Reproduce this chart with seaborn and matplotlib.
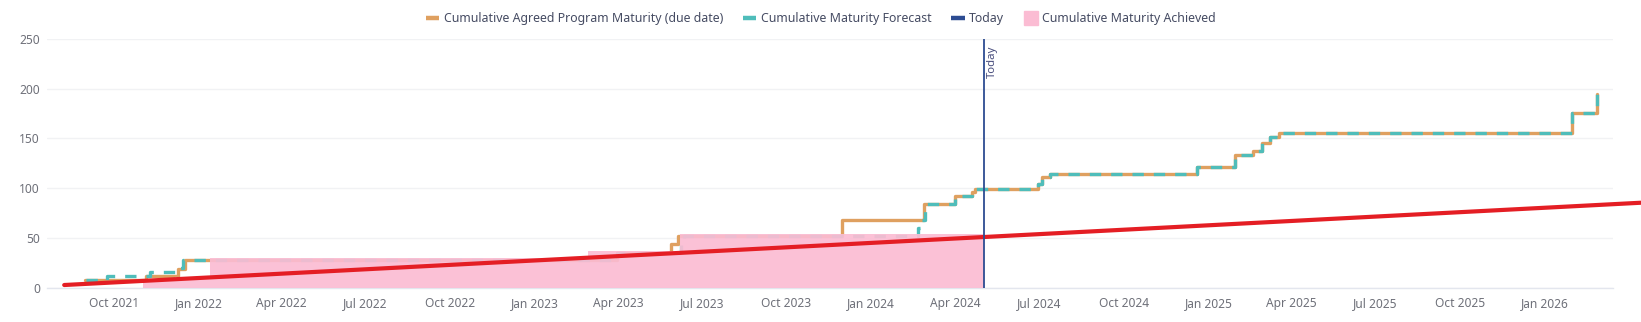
import numpy as np
import pandas as pd
import matplotlib
matplotlib.use("Agg")
import matplotlib.pyplot as plt
import matplotlib.dates as mdates
from matplotlib.lines import Line2D
import seaborn as sns

# Cumulative agreed programme maturity (by due date)
agreed_dates = ["2021-08-31", "2021-11-05", "2021-12-09", "2021-12-17", "2023-03-31",
                "2023-05-29", "2023-06-05", "2023-11-30", "2024-02-27", "2024-04-01",
                "2024-04-19", "2024-04-22", "2024-06-30", "2024-07-04", "2024-07-13",
                "2024-12-20", "2025-01-30", "2025-02-18", "2025-02-28", "2025-03-09",
                "2025-03-18", "2026-01-31", "2026-02-27"]
agreed_values = [8, 12, 19, 28, 35,
                 44, 52, 68, 84, 92,
                 96, 99, 104, 111, 114,
                 121, 133, 137, 145, 151,
                 156, 176, 195]

# Cumulative maturity forecast
forecast_dates = ["2021-09-01", "2021-09-23", "2021-11-09", "2021-12-06", "2021-12-15",
                  "2023-03-31", "2023-06-08", "2023-06-12", "2024-02-21", "2024-02-23",
                  "2024-02-28", "2024-04-01", "2024-04-19", "2024-04-22", "2024-06-30",
                  "2024-07-04", "2024-07-13", "2024-12-20", "2025-01-30", "2025-02-18",
                  "2025-02-28", "2025-03-09", "2025-03-18", "2026-01-31", "2026-02-27"]
forecast_values = [8, 12, 16, 19.5, 28,
                   35, 44, 52, 60, 68,
                   84, 92, 96, 99, 104,
                   111, 114, 121, 133, 137,
                   145, 151, 156, 176, 195]

# Cumulative maturity achieved up to today
achieved_dates = ["2021-11-01", "2021-12-06", "2022-01-13", "2023-02-28", "2023-06-07", "2024-05-02"]
achieved_values = [7, 11, 29.5, 36.5, 53.5, 53.5]

# Linear trajectory
trend_dates = ["2021-08-08", "2026-04-15"]
trend_values = [2.7, 85.4]

today = "2024-05-02"
y_ticks = [0, 50, 100, 150, 200, 250]
x_ticks = pd.date_range("2021-10-01", "2026-01-01", freq="3MS")

ORANGE = "#dfa060"
TEAL = "#4fbdba"
NAVY = "#2d4c92"
RED = "#e41e24"
PINK = "#fbbcd3"
LABEL = "#6e7079"
TEXT = "#464c63"

sns.set_theme(style="white")
plt.rcParams["font.family"] = ["Noto Sans", "DejaVu Sans"]

fig = plt.figure(figsize=(16.41, 3.22), dpi=100)
ax = fig.add_axes([0.02846, 0.10652, 0.95448, 0.77236])

agreed = pd.DataFrame({"date": pd.to_datetime(agreed_dates), "value": agreed_values})
forecast = pd.DataFrame({"date": pd.to_datetime(forecast_dates), "value": forecast_values})
achieved = pd.DataFrame({"date": pd.to_datetime(achieved_dates), "value": achieved_values})
trend = pd.DataFrame({"date": pd.to_datetime(trend_dates), "value": trend_values})
today_dt = pd.Timestamp(today)

sns.lineplot(data=agreed, x="date", y="value", ax=ax, color=ORANGE, lw=2.4,
             drawstyle="steps-post", estimator=None, sort=False, zorder=2)
sns.lineplot(data=forecast, x="date", y="value", ax=ax, color=TEAL, lw=2.4,
             drawstyle="steps-post", estimator=None, sort=False, zorder=2.1,
             dashes=False, linestyle=(0, (3.4, 3.0)))

ax.fill_between(achieved["date"], 0, achieved["value"], step="post",
                color=PINK, alpha=0.92, lw=0, zorder=3)

sns.lineplot(data=trend, x="date", y="value", ax=ax, color=RED, lw=3.0,
             estimator=None, sort=False, zorder=4, clip_on=False,
             solid_capstyle="round")

ax.axvline(today_dt, color=NAVY, lw=1.3, zorder=5)
ax.annotate("Today", xy=(today_dt, 250), xytext=(2.5, -5), textcoords="offset points",
            rotation=90, ha="left", va="top", fontsize=8.2, color="#4a4f7e")

ax.set_xlim(pd.Timestamp("2021-07-20"), pd.Timestamp("2026-03-16"))
ax.set_ylim(0, 250)
ax.set_yticks(y_ticks)
ax.set_xticks(x_ticks)
ax.xaxis.set_major_formatter(mdates.DateFormatter("%b %Y"))
ax.set_xlabel("")
ax.set_ylabel("")

ax.grid(axis="y", color="#f1f2f4", lw=1.0, zorder=0)
ax.grid(axis="x", visible=False)
for side in ["top", "right", "left"]:
    ax.spines[side].set_visible(False)
ax.spines["bottom"].set_color("#e3e6ee")
ax.spines["bottom"].set_linewidth(1.0)
ax.tick_params(axis="x", length=4, width=1, color="#e3e6ee", pad=3,
               labelsize=8.64, labelcolor=LABEL)
ax.tick_params(axis="y", length=0, pad=5, labelsize=8.64, labelcolor=LABEL)

handles = [
    Line2D([], [], color=ORANGE, lw=3.2, solid_capstyle="butt"),
    Line2D([], [], color=TEAL, lw=3.2, solid_capstyle="butt"),
    Line2D([], [], color=NAVY, lw=3.2, solid_capstyle="butt"),
    Line2D([], [], color=PINK, marker="s", markersize=10, linestyle="none"),
]
labels = ["Cumulative Agreed Program Maturity (due date)", "Cumulative Maturity Forecast",
          "Today", "Cumulative Maturity Achieved"]
fig.legend(handles, labels, loc="upper center", bbox_to_anchor=(0.5, 0.99), ncol=4,
           frameon=False, fontsize=8.9, labelcolor=TEXT, handlelength=1.1,
           handletextpad=0.35, columnspacing=1.6, borderaxespad=0.3)

fig.savefig("out.png", dpi=100)
